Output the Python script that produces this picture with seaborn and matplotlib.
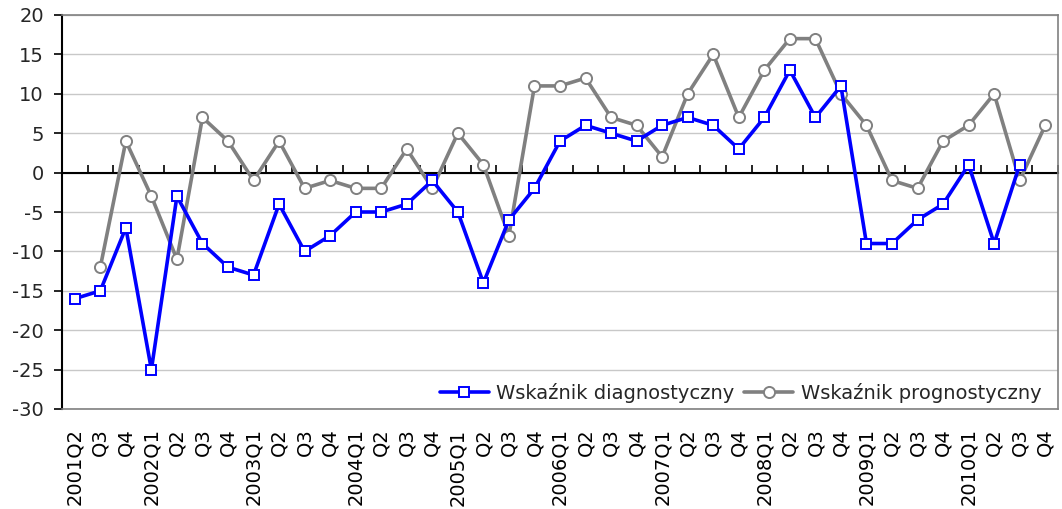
import numpy as np
import pandas as pd
import matplotlib
matplotlib.use("Agg")
import matplotlib.pyplot as plt
import seaborn as sns

quarters = ["2001Q2", "Q3", "Q4",
            "2002Q1", "Q2", "Q3", "Q4",
            "2003Q1", "Q2", "Q3", "Q4",
            "2004Q1", "Q2", "Q3", "Q4",
            "2005Q1", "Q2", "Q3", "Q4",
            "2006Q1", "Q2", "Q3", "Q4",
            "2007Q1", "Q2", "Q3", "Q4",
            "2008Q1", "Q2", "Q3", "Q4",
            "2009Q1", "Q2", "Q3", "Q4",
            "2010Q1", "Q2", "Q3", "Q4"]

diagnostyczny = [-16, -15, -7,
                 -25, -3, -9, -12,
                 -13, -4, -10, -8,
                 -5, -5, -4, -1,
                 -5, -14, -6, -2,
                 4, 6, 5, 4,
                 6, 7, 6, 3,
                 7, 13, 7, 11,
                 -9, -9, -6, -4,
                 1, -9, 1, np.nan]

prognostyczny = [np.nan, -12, 4,
                 -3, -11, 7, 4,
                 -1, 4, -2, -1,
                 -2, -2, 3, -2,
                 5, 1, -8, 11,
                 11, 12, 7, 6,
                 2, 10, 15, 7,
                 13, 17, 17, 10,
                 6, -1, -2, 4,
                 6, 10, -1, 6]

series_names = ["Wskaźnik diagnostyczny", "Wskaźnik prognostyczny"]
y_ticks = [-30, -25, -20, -15, -10, -5, 0, 5, 10, 15, 20]

sns.set_style("white")
plt.rcParams["font.family"] = ["DejaVu Sans"]

pos = np.arange(len(quarters))
df = pd.DataFrame({"pos": pos, "diag": diagnostyczny, "prog": prognostyczny})

fig = plt.figure(figsize=(10.62, 5.09), dpi=100)
ax = fig.add_axes([62 / 1062, 1 - 409 / 509, (1058 - 62) / 1062, (409 - 15) / 509])

sns.lineplot(data=df, x="pos", y="diag", ax=ax, color="#0000FF", linewidth=2.6,
             marker="s", markersize=7.5, markerfacecolor="white",
             markeredgecolor="#0000FF", markeredgewidth=1.4,
             label=series_names[0], zorder=4)
sns.lineplot(data=df, x="pos", y="prog", ax=ax, color="#808080", linewidth=2.6,
             marker="o", markersize=8, markerfacecolor="white",
             markeredgecolor="#808080", markeredgewidth=1.4,
             label=series_names[1], zorder=3)

ax.set_xlim(-0.5, len(quarters) - 0.5)
ax.set_ylim(-30, 20)
ax.set_yticks(y_ticks)
ax.set_yticklabels([str(v) for v in y_ticks])
ax.set_xticks(pos)
ax.set_xticklabels(quarters, rotation=90)
ax.set_xlabel("")
ax.set_ylabel("")

ax.yaxis.grid(True, color="#c8c8c8", linewidth=1)
ax.xaxis.grid(False)
ax.set_axisbelow(True)

for s in ["top", "right", "bottom"]:
    ax.spines[s].set_color("#808080")
    ax.spines[s].set_linewidth(1.2)
ax.spines["left"].set_color("black")
ax.spines["left"].set_linewidth(1.5)

ax.tick_params(axis="x", length=0, pad=14, labelsize=14, colors="black")
ax.tick_params(axis="y", left=True, length=6, width=1.2, color="black", pad=7,
               labelsize=14, direction="out")

# zero axis line with category-boundary ticks pointing up
sec = ax.secondary_xaxis((0 - (-30)) / 50)
sec.set_xticks(np.arange(-0.5, len(quarters), 1.0))
sec.xaxis.set_ticks_position("top")
sec.tick_params(length=6, width=1.2, color="black", direction="out",
                labeltop=False, labelbottom=False, bottom=False, top=True)
for s in ["top", "bottom"]:
    sec.spines[s].set_color("black")
    sec.spines[s].set_linewidth(1.5)
sec.set_zorder(0.5)

leg = ax.legend(loc="lower right", ncol=2, frameon=False, fontsize=14,
                handlelength=2.5, handletextpad=0.4, columnspacing=0.5,
                bbox_to_anchor=(0.997, -0.02), borderaxespad=0.3)

fig.savefig("out.png", dpi=100)
